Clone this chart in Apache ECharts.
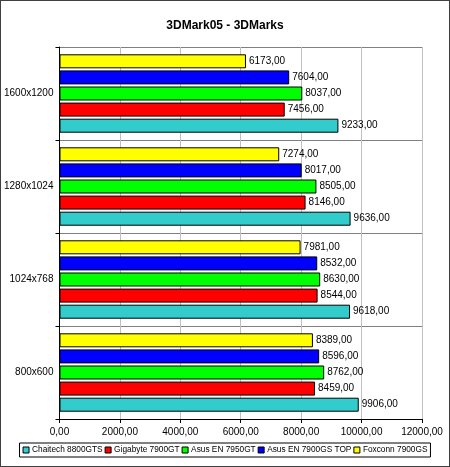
<!DOCTYPE html>
<html>
<head>
<meta charset="utf-8">
<script src="https://cdn.jsdelivr.net/npm/echarts@6/dist/echarts.min.js"></script>
<style>
  body { margin: 0; background: #fff; }
  #chart { width: 450px; height: 467px; box-sizing: border-box; border: 1px solid #404040; }
</style>
</head>
<body>
<div id="chart"></div>
<script>
// categories, bottom to top
var resolutions = ["800x600", "1024x768", "1280x1024", "1600x1200"];
var cardNames = ["Chaitech 8800GTS", "Gigabyte 7900GT", "Asus EN 7950GT", "Asus EN 7900GS TOP", "Foxconn 7900GS"];
var cardColors = ["#33CCCC", "#FF0000", "#00FF00", "#0000FF", "#FFFF00"];
var chaitech = [9906, 9618, 9636, 9233];
var gigabyte = [8459, 8544, 8146, 7456];
var asus7950 = [8762, 8630, 8505, 8037];
var asus7900 = [8596, 8532, 8017, 7604];
var foxconn = [8389, 7981, 7274, 6173];
var allValues = [chaitech, gigabyte, asus7950, asus7900, foxconn];

function fmt(v) {
  return v.toFixed(2).replace(".", ",");
}

var myChart = echarts.init(document.getElementById("chart"));
var seriesList = [];
// first series is drawn on top of each group, so add them in reverse
for (var i = cardNames.length - 1; i >= 0; i--) {
  seriesList.push({
    name: cardNames[i],
    type: "bar",
    data: allValues[i],
    barWidth: 14,
    barGap: "15%",
    itemStyle: { color: cardColors[i], borderColor: "#000", borderWidth: 1 },
    label: {
      show: true,
      position: "right",
      distance: 3,
      fontFamily: "Arial, Liberation Sans",
      fontSize: 10,
      color: "#000",
      formatter: function (p) { return fmt(p.value); }
    }
  });
}

var option = {
  animation: false,
  title: {
    text: "3DMark05 - 3DMarks",
    left: "center",
    top: 14,
    textStyle: { fontFamily: "Arial, Liberation Sans", fontSize: 12, fontWeight: "bold", color: "#000" }
  },
  grid: { left: 58, right: 27, top: 46, bottom: 47 },
  xAxis: {
    type: "value",
    min: 0,
    max: 12000,
    interval: 2000,
    axisLine: { show: true, lineStyle: { color: "#000" } },
    axisTick: { show: true, length: 4, lineStyle: { color: "#000" } },
    axisLabel: {
      fontFamily: "Arial, Liberation Sans", fontSize: 10, color: "#000", margin: 8,
      formatter: function (v) { return fmt(v); }
    },
    splitLine: { show: true, lineStyle: { color: "#c0c0c0" } }
  },
  yAxis: {
    type: "category",
    data: resolutions,
    axisLine: { show: true, lineStyle: { color: "#000" } },
    axisTick: { show: true, length: 4, lineStyle: { color: "#000" } },
    axisLabel: { fontFamily: "Arial, Liberation Sans", fontSize: 10, color: "#000", margin: 6 },
    splitLine: { show: true, lineStyle: { color: "#808080" } }
  },
  legend: {
    bottom: 9,
    left: "center",
    width: 440,
    itemWidth: 6,
    itemHeight: 6,
    itemGap: 2,
    padding: [3, 3],
    borderColor: "#000",
    borderWidth: 1,
    icon: "rect",
    itemStyle: { borderColor: "#000", borderWidth: 1 },
    textStyle: { fontFamily: "Arial, Liberation Sans", fontSize: 8.3, color: "#000", padding: [0, 0, 0, -2] },
    data: cardNames
  },
  series: seriesList
};
myChart.setOption(option);
</script>
</body>
</html>
